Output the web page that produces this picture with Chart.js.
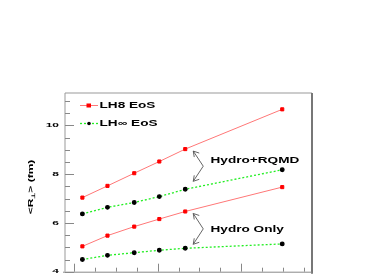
<!DOCTYPE html>
<html>
<head>
<meta charset="utf-8">
<script src="https://cdn.jsdelivr.net/npm/chart.js@4/dist/chart.umd.min.js"></script>
<style>
  html, body { margin: 0; padding: 0; background: #fff; }
  #wrap { width: 374px; height: 277px; }
</style>
</head>
<body>
<div id="wrap"><canvas id="chart" width="374" height="277"></canvas></div>
<script>
// x positions of the six points (axis labels are cut off in the picture)
const xValues = [0.1, 0.4, 0.72, 1.02, 1.33, 2.49];

const lh8Rqmd = [7.04, 7.52, 8.04, 8.52, 9.03, 10.66];
const lhInfRqmd = [6.37, 6.64, 6.84, 7.08, 7.38, 8.18];
const lh8Hydro = [5.04, 5.48, 5.85, 6.16, 6.47, 7.47];
const lhInfHydro = [4.50, 4.67, 4.78, 4.88, 4.96, 5.14];

const yTickLabels = [4, 6, 8, 10];
const legendLabels = ["LH8 EoS", "LH\u221E EoS"];
const noteLabels = ["Hydro+RQMD", "Hydro Only"];

function toPoints(ys) {
  return ys.map(function(y, i) {
    return { x: xValues[i], y: y };
  });
}

function redSet(ys) {
  return {
    data: toPoints(ys),
    showLine: true,
    borderColor: "#ff7777",
    borderWidth: 1,
    pointStyle: "rect",
    pointRadius: 2.2,
    pointBackgroundColor: "#ff0000",
    pointBorderColor: "#ff0000"
  };
}

function greenSet(ys) {
  return {
    data: toPoints(ys),
    showLine: true,
    borderColor: "#22ee22",
    borderWidth: 1.3,
    borderDash: [2, 2],
    pointStyle: "circle",
    pointRadius: 1.8,
    pointBackgroundColor: "#000000",
    pointBorderColor: "#000000"
  };
}

function stretchText(ctx, text, x, y, sx, align) {
  ctx.save();
  const w = ctx.measureText(text).width * sx;
  let left = x;
  if (align === "right") left = x - w;
  if (align === "center") left = x - w / 2;
  ctx.translate(left, y);
  ctx.scale(sx, 1);
  ctx.textAlign = "left";
  ctx.fillText(text, 0, 0);
  ctx.restore();
}

function drawArrow(ctx, x, yTop, yBottom) {
  const bend = x + 10;
  const mid = (yTop + yBottom) / 2;
  ctx.save();
  ctx.strokeStyle = "#555";
  ctx.lineWidth = 0.9;
  ctx.beginPath();
  ctx.moveTo(x, yTop);
  ctx.lineTo(bend, mid);
  ctx.lineTo(x, yBottom);
  ctx.stroke();
  // open heads
  ctx.beginPath();
  ctx.moveTo(x + 1, yTop + 6);
  ctx.lineTo(x, yTop);
  ctx.lineTo(x + 6, yTop + 2);
  ctx.moveTo(x + 1, yBottom - 6);
  ctx.lineTo(x, yBottom);
  ctx.lineTo(x + 6, yBottom - 2);
  ctx.stroke();
  ctx.restore();
}

const framePlugin = {
  id: "frame",
  afterDatasetsDraw: function(chart) {
    const ctx = chart.ctx;
    const a = chart.chartArea;
    const xs = chart.scales.x;
    const ys = chart.scales.y;

    ctx.save();
    // frame
    ctx.strokeStyle = "#999";
    ctx.lineWidth = 1;
    ctx.beginPath();
    ctx.moveTo(a.left, a.bottom);
    ctx.lineTo(a.left, a.top);
    ctx.lineTo(a.right, a.top);
    ctx.stroke();
    ctx.strokeStyle = "#777";
    ctx.lineWidth = 2;
    ctx.beginPath();
    ctx.moveTo(a.right, a.top);
    ctx.lineTo(a.right, a.bottom + 2);
    ctx.stroke();
    ctx.strokeStyle = "#888";
    ctx.lineWidth = 1;
    ctx.beginPath();
    ctx.moveTo(a.left - 2, a.bottom + 0.5);
    ctx.lineTo(a.right, a.bottom + 0.5);
    ctx.stroke();

    // y ticks
    ctx.strokeStyle = "#888";
    ctx.lineWidth = 1;
    for (let v = 4; v <= 11.3; v += 0.5) {
      const py = Math.round(ys.getPixelForValue(v)) + 0.5;
      const len = Number.isInteger(v) && v % 2 === 0 ? 9 : 5;
      ctx.beginPath();
      ctx.moveTo(a.left, py);
      ctx.lineTo(a.left + len, py);
      ctx.stroke();
    }
    // x ticks
    for (let i = 0; i <= 11; i++) {
      const v = i * 0.25;
      const px = Math.round(xs.getPixelForValue(v)) + 0.5;
      const len = i % 4 === 0 ? 8 : 4;
      ctx.beginPath();
      ctx.moveTo(px, a.bottom);
      ctx.lineTo(px, a.bottom - len);
      ctx.stroke();
    }

    // y tick labels
    ctx.fillStyle = "#000";
    ctx.font = "bold 6px 'Liberation Sans', Arial, sans-serif";
    ctx.textBaseline = "middle";
    yTickLabels.forEach(function(v) {
      stretchText(ctx, String(v), a.left - 6, ys.getPixelForValue(v), 2.0, "right");
    });

    // y title
    ctx.save();
    ctx.translate(31, 187);
    ctx.rotate(-Math.PI / 2);
    ctx.font = "bold 8px 'Liberation Sans', Arial, sans-serif";
    ctx.textBaseline = "middle";
    ctx.scale(1.5, 1);
    const p1 = "<R";
    const w1 = ctx.measureText(p1).width;
    const p3 = "> (fm)";
    ctx.font = "bold 5px 'Liberation Sans', Arial, sans-serif";
    const w2 = ctx.measureText("\u22A5").width;
    ctx.font = "bold 8px 'Liberation Sans', Arial, sans-serif";
    const w3 = ctx.measureText(p3).width;
    let start = -(w1 + w2 + w3) / 2;
    ctx.fillText(p1, start, 0);
    ctx.font = "bold 5px 'Liberation Sans', Arial, sans-serif";
    ctx.fillText("\u22A5", start + w1, 2.5);
    ctx.font = "bold 8px 'Liberation Sans', Arial, sans-serif";
    ctx.fillText(p3, start + w1 + w2, 0);
    ctx.restore();

    // legend
    const legY = [105.5, 123.5];
    ctx.lineWidth = 1;
    ctx.strokeStyle = "#ff7777";
    ctx.beginPath();
    ctx.moveTo(80, legY[0]);
    ctx.lineTo(98, legY[0]);
    ctx.stroke();
    ctx.fillStyle = "#ff0000";
    ctx.fillRect(86.5, legY[0] - 2, 4.5, 4);
    ctx.strokeStyle = "#22ee22";
    ctx.lineWidth = 1.3;
    ctx.setLineDash([2, 2]);
    ctx.beginPath();
    ctx.moveTo(80, legY[1]);
    ctx.lineTo(98, legY[1]);
    ctx.stroke();
    ctx.setLineDash([]);
    ctx.fillStyle = "#000";
    ctx.beginPath();
    ctx.arc(89, legY[1], 1.8, 0, Math.PI * 2);
    ctx.fill();

    ctx.font = "bold 8.5px 'Liberation Sans', Arial, sans-serif";
    ctx.textBaseline = "middle";
    stretchText(ctx, legendLabels[0], 99.5, legY[0] + 0.5, 1.6, "left");
    stretchText(ctx, legendLabels[1], 99.5, legY[1] + 0.5, 1.6, "left");

    // arrows and notes at the fifth point
    const ax = xs.getPixelForValue(xValues[4]) + 8;
    drawArrow(ctx, ax, ys.getPixelForValue(lh8Rqmd[4]) + 2, ys.getPixelForValue(lhInfRqmd[4]) - 8);
    drawArrow(ctx, ax, ys.getPixelForValue(lh8Hydro[4]) + 2, ys.getPixelForValue(lhInfHydro[4]) - 4);
    stretchText(ctx, noteLabels[0], 210.5, 160.5, 1.6, "left");
    stretchText(ctx, noteLabels[1], 210.5, 229.5, 1.6, "left");

    ctx.restore();
  }
};

new Chart(document.getElementById("chart"), {
  type: "scatter",
  data: {
    datasets: [
      redSet(lh8Rqmd),
      greenSet(lhInfRqmd),
      redSet(lh8Hydro),
      greenSet(lhInfHydro)
    ]
  },
  options: {
    responsive: false,
    animation: false,
    layout: {
      padding: { left: 65, right: 62, top: 93, bottom: 4 }
    },
    plugins: {
      legend: { display: false },
      tooltip: { enabled: false }
    },
    scales: {
      x: {
        type: "linear",
        display: false,
        min: -0.108,
        max: 2.846
      },
      y: {
        type: "linear",
        display: false,
        min: 4,
        max: 11.33
      }
    }
  },
  plugins: [framePlugin]
});
</script>
</body>
</html>
